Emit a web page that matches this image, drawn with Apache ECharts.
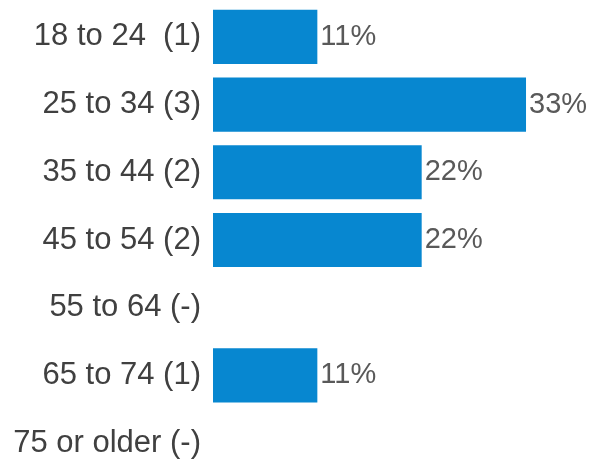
<!DOCTYPE html>
<html>
<head>
<meta charset="utf-8">
<script src="https://cdn.jsdelivr.net/npm/echarts@6/dist/echarts.min.js"></script>
<style>
	html, body { margin: 0; padding: 0; background: #fff; }
	#chart { width: 592px; height: 463px; }
</style>
</head>
<body>
<div id="chart"></div>
<script>
// age groups, top to bottom
var categories = ['18 to 24  (1)', '25 to 34 (3)', '35 to 44 (2)', '45 to 54 (2)', '55 to 64 (-)', '65 to 74 (1)', '75 or older (-)'];
// share of respondents, %
var shares = [11.1, 33.3, 22.2, 22.2, null, 11.1, null];

var chart = echarts.init(document.getElementById('chart'));

chart.setOption({
	animation: false,
	grid: {
		left: 213,
		right: 3,
		top: 3,
		bottom: -14,
		outerBoundsMode: 'none'
	},
	xAxis: {
		type: 'value',
		min: 0,
		max: 40,
		show: false
	},
	yAxis: {
		type: 'category',
		inverse: true,
		data: categories,
		axisLine: { show: false },
		axisTick: { show: false },
		axisLabel: {
			margin: 12,
			color: '#404040',
			fontFamily: 'Liberation Sans, Arial, sans-serif',
			fontSize: 31
		}
	},
	series: [{
		type: 'bar',
		data: shares,
		barCategoryGap: '20%',
		itemStyle: {
			color: '#0787D0'
		},
		label: {
			show: true,
			position: 'right',
			distance: 3,
			color: '#595959',
			fontFamily: 'Liberation Sans, Arial, sans-serif',
			fontSize: 29,
			formatter: function(p) {
				if (p.value == null) return '';
				return Math.round(p.value) + '%';
			}
		}
	}]
});
</script>
</body>
</html>
